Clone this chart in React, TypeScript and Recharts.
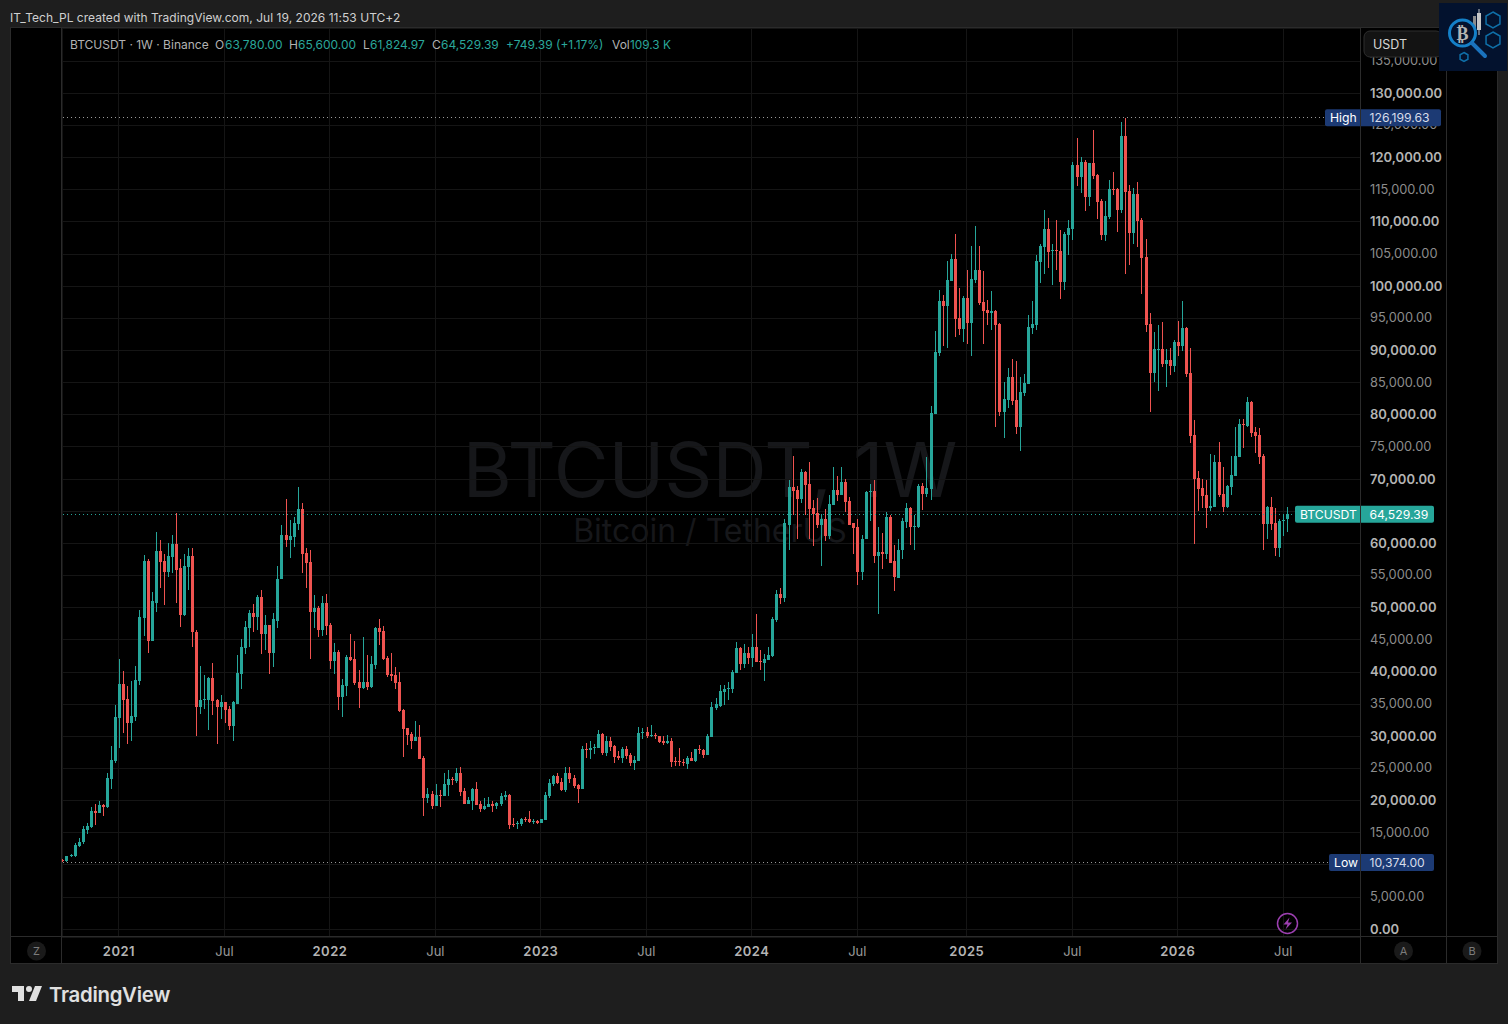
import { Bar, CartesianGrid, ComposedChart, ReferenceLine, XAxis, YAxis } from "recharts";

// weekly candles, prices in thousands of USDT
const opens = [
  10.77,10.56,11.34,11.34,12.9,13.52,15.38,15.85,18.33,18.02,
  19.26,18.95,23.3,26.1,32.8,38.07,35.74,32.0,32.94,38.53,
  48.33,57.34,44.9,50.81,58.89,57.34,55.63,57.96,59.98,56.1,
  48.79,56.4,58.12,46.3,34.5,35.58,35.58,39.0,35.58,34.5,
  35.27,34.2,31.54,35.1,39.62,43.66,46.77,49.1,48.48,51.74,
  45.84,47.24,42.89,48.0,54.4,61.38,60.6,61.07,63.09,65.42,
  58.58,57.18,49.26,50.03,46.46,50.66,47.24,41.65,43.05,36.05,
  37.76,42.27,41.96,38.38,37.45,38.38,37.6,41.03,46.77,46.31,
  42.11,39.63,39.47,38.38,34.03,31.24,30.3,29.21,29.84,26.57,
  20.36,20.98,19.12,20.82,20.67,22.38,23.31,23.0,24.24,21.44,
  19.42,19.89,21.75,19.42,18.65,18.96,19.42,19.12,19.42,20.51,
  20.82,16.32,16.32,16.32,17.1,17.1,16.63,16.78,16.47,16.94,
  20.67,22.53,23.78,22.84,21.6,24.24,23.47,22.38,21.75,27.97,
  27.82,28.13,28.13,30.3,27.35,29.21,28.44,26.88,26.57,27.97,
  27.04,25.8,26.11,30.46,30.61,29.99,30.15,29.99,29.21,28.9,
  29.21,26.11,26.11,25.95,25.64,26.57,26.11,27.97,27.82,27.04,
  29.84,34.34,34.65,36.83,37.3,37.3,39.78,43.67,41.18,42.89,
  42.11,43.82,41.65,41.34,41.8,42.42,48.02,52.06,51.44,62.94,
  68.84,68.38,66.98,71.17,69.31,65.58,64.8,62.94,63.87,61.23,
  66.05,68.38,67.6,69.62,66.67,63.1,62.63,55.63,60.61,68.07,
  68.22,57.97,58.59,58.28,64.18,57.19,54.55,58.9,63.4,65.58,
  62.63,62.63,69.0,67.76,68.53,80.19,89.67,97.75,96.97,100.86,
  104.27,95.11,93.4,98.21,94.33,101.01,102.57,97.59,96.35,95.88,
  96.2,94.17,80.5,82.36,85.94,82.36,78.17,83.45,84.85,93.55,
  94.01,103.8,106.14,108.93,105.52,105.67,105.52,100.7,108.0,108.93,
  118.88,117.0,119.35,113.9,119.19,117.32,113.28,108.0,110.8,115.15,
  115.15,111.89,123.38,114.84,108.31,114.37,110.33,104.58,94.17,86.56,
  90.13,90.28,87.95,88.58,87.64,91.37,90.75,93.55,86.56,76.92,
  70.24,68.69,67.6,65.58,65.73,72.72,67.75,65.73,68.84,70.55,
  73.5,78.63,78.32,82.05,77.39,76.92,73.66,63.09,65.73,63.25,
  59.36,63.56,63.78,
];
const highs = [
  10.87,11.44,11.7,13.36,14.13,16.0,16.47,18.95,19.42,19.88,
  19.42,24.24,28.43,34.8,41.95,40.09,37.76,38.53,40.86,49.72,
  58.27,57.5,52.52,61.84,60.6,58.43,60.14,61.38,64.8,57.5,
  58.43,59.36,59.36,46.6,40.86,39.47,39.3,41.33,35.74,36.5,
  35.3,34.65,35.43,42.58,45.2,48.0,49.72,50.5,51.9,52.83,
  48.79,47.3,49.1,56.56,62.93,66.97,63.7,64.18,68.84,66.35,
  59.36,59.05,51.9,50.2,51.75,52.06,47.55,44.44,43.5,38.85,
  42.58,45.84,44.75,40.25,45.38,42.58,42.42,46.93,48.17,47.09,
  42.42,42.89,40.71,39.94,34.19,31.24,30.61,32.32,31.7,26.88,
  21.91,21.44,22.53,21.6,24.24,24.71,23.62,25.02,25.17,21.91,
  20.51,21.91,22.84,19.89,20.36,20.51,19.89,19.74,21.13,21.44,
  20.98,17.25,16.78,17.25,17.4,18.34,17.1,16.94,17.1,21.29,
  23.31,23.93,24.24,23.47,25.17,25.17,23.93,22.53,28.44,28.9,
  29.21,28.75,30.92,30.46,29.99,29.84,28.59,27.66,28.28,28.44,
  27.35,26.88,31.39,31.24,31.39,31.7,30.46,29.99,29.99,30.15,
  29.68,26.73,28.13,26.42,26.88,27.51,27.97,28.59,27.97,30.3,
  35.27,35.9,37.92,37.92,38.38,40.25,44.6,43.82,44.29,43.82,
  45.84,48.95,43.5,42.73,43.82,48.48,52.68,53.0,63.87,69.93,
  73.66,69.0,71.64,71.2,72.73,66.82,67.14,64.65,65.42,67.6,
  71.95,70.55,71.95,70.09,67.29,63.25,63.72,61.38,68.22,69.31,
  69.93,62.63,61.69,64.96,64.49,59.68,60.61,64.03,66.36,65.6,
  64.49,69.31,69.47,73.51,81.43,93.09,99.46,98.68,103.96,105.05,
  108.16,99.77,98.53,102.57,106.3,109.4,106.3,102.41,97.9,99.3,
  96.35,94.33,85.16,87.34,88.74,88.42,85.94,86.4,95.57,97.74,
  104.89,106.6,111.89,110.64,106.6,110.33,108.78,108.47,110.33,119.35,
  123.07,120.12,119.66,119.2,124.32,117.4,113.59,113.28,116.55,117.79,
  115.3,125.56,126.2,115.77,115.3,116.24,110.64,107.38,95.88,92.93,
  94.02,94.48,90.28,90.44,91.68,94.64,97.74,93.6,90.44,79.25,
  71.33,70.08,69.93,73.97,73.81,75.83,71.95,69.15,73.66,78.17,
  79.41,79.41,82.83,82.2,78.17,78.0,73.97,65.8,67.29,65.58,
  63.87,64.65,65.6,
];
const lows = [
  10.374,10.5,11.19,11.3,12.74,13.2,14.76,15.8,16.16,18.0,
  17.56,18.9,21.75,25.8,28.12,30.45,28.75,29.2,32.32,37.91,
  45.53,42.89,44.9,49.26,53.14,50.35,54.7,55.47,50.81,46.93,
  48.64,52.83,43.82,30.0,33.4,34.2,30.92,33.25,28.75,32.63,
  32.0,30.92,29.2,35.1,37.29,42.73,43.82,46.15,46.46,42.73,
  43.35,39.62,40.71,46.77,54.4,59.5,57.8,59.5,62.16,55.47,
  53.14,41.95,46.77,45.37,45.53,45.69,40.4,39.63,34.03,32.94,
  36.21,41.65,37.92,34.34,37.4,37.14,37.45,40.4,44.13,41.8,
  39.16,38.54,37.3,33.72,26.73,28.59,27.97,29.21,26.42,17.56,
  19.58,18.65,19.12,18.96,20.67,20.67,22.38,22.69,20.67,19.42,
  19.42,18.49,19.27,18.18,18.49,18.96,18.18,18.65,19.12,20.05,
  15.54,15.85,15.54,16.0,16.63,16.47,16.32,16.32,16.47,16.94,
  20.36,22.22,22.53,21.44,21.29,22.69,21.91,19.58,21.75,26.57,
  26.42,27.2,28.13,27.04,26.88,27.66,25.8,26.26,25.8,26.42,
  25.33,24.71,26.11,29.53,29.68,29.84,29.53,28.9,28.59,28.75,
  25.17,25.33,25.33,25.33,24.86,26.11,25.95,27.2,26.57,27.04,
  29.84,34.03,34.5,34.81,35.58,36.67,39.78,40.25,40.56,41.18,
  40.71,41.49,40.25,38.54,41.8,42.27,47.7,50.51,50.82,58.9,
  64.49,60.76,66.36,64.49,60.61,59.52,62.32,56.41,60.3,60.76,
  66.05,66.67,67.6,64.96,62.94,58.28,53.46,54.24,60.61,63.41,
  57.03,48.95,55.95,57.65,57.03,52.53,54.55,57.5,62.47,59.83,
  58.9,62.32,65.12,67.29,66.82,80.19,89.2,90.76,90.44,100.86,
  92.15,92.46,91.38,91.07,89.2,100.5,97.13,91.07,94.02,93.24,
  78.17,79.88,76.46,81.0,81.59,77.08,74.44,83.0,84.85,92.62,
  93.24,100.54,101.94,102.87,100.23,102.56,98.06,99.45,104.89,107.22,
  115.62,114.53,111.73,112.5,116.7,110.49,107.22,107.07,110.49,114.22,
  108.47,111.42,101.94,103.34,106.6,106.14,98.83,92.93,80.5,85.16,
  83.76,87.49,84.38,86.24,86.71,89.2,89.97,85.93,75.68,59.98,
  65.11,65.58,62.47,65.11,65.73,67.29,64.96,65.58,67.6,70.55,
  73.5,74.9,78.17,76.61,74.12,72.41,59.05,60.76,62.16,58.12,
  57.81,61.23,61.82,
];
const closes = [
  10.56,11.34,11.49,13.05,13.62,15.53,16.0,18.33,18.02,19.26,
  18.95,23.46,26.26,32.94,38.07,35.58,32.0,33.1,38.69,48.48,
  57.34,44.9,50.97,58.89,57.18,55.63,58.12,59.98,55.94,48.79,
  56.56,58.12,46.15,34.5,35.58,35.74,39.0,35.43,34.5,35.27,
  34.03,31.54,35.27,39.78,43.82,46.93,49.1,48.48,51.74,45.84,
  47.24,42.89,48.17,54.54,61.38,60.6,61.22,63.24,65.42,58.43,
  57.03,49.26,50.03,46.46,50.66,47.09,41.65,43.05,36.05,37.92,
  42.27,41.8,38.23,37.45,38.38,37.6,41.18,46.77,46.15,41.96,
  39.47,39.32,38.23,33.88,31.08,30.15,29.21,29.84,26.42,20.36,
  20.98,19.12,20.82,20.67,22.53,23.31,23.15,24.24,21.29,19.42,
  20.05,21.75,19.27,18.65,19.12,19.42,19.12,19.58,20.67,20.82,
  16.16,16.16,16.47,17.1,16.94,16.63,16.78,16.47,17.1,20.82,
  22.69,23.78,22.69,21.6,24.24,23.31,22.22,21.75,27.97,27.82,
  28.13,28.28,30.3,27.35,29.21,28.28,26.73,26.57,27.97,26.88,
  25.8,26.26,30.46,30.61,29.99,30.15,29.99,29.06,28.9,29.21,
  25.95,25.95,25.95,25.8,26.57,26.11,27.97,27.82,27.04,29.99,
  34.5,34.96,36.98,37.3,37.45,39.94,43.67,41.18,42.89,42.11,
  43.82,41.49,41.49,41.96,42.58,48.17,52.06,51.44,63.1,68.84,
  68.22,66.98,71.17,69.15,65.42,64.65,62.94,63.87,61.23,66.2,
  68.38,67.6,69.62,66.51,62.94,62.47,55.63,60.76,68.07,68.22,
  57.97,58.59,58.28,64.18,57.03,54.7,59.05,63.56,65.58,62.63,
  62.78,69.0,67.76,68.69,80.34,89.82,97.75,96.97,101.01,104.27,
  94.95,93.4,98.21,94.33,101.17,102.57,97.44,96.2,95.88,96.2,
  94.02,80.5,82.52,85.94,82.21,78.17,83.61,85.0,93.7,94.17,
  103.96,106.29,108.93,105.36,105.67,105.52,100.7,108.16,109.09,118.88,
  117.0,119.35,113.9,119.19,117.17,113.13,108.0,110.95,115.15,115.0,
  111.89,123.38,114.68,108.31,114.37,110.17,104.43,94.01,86.56,90.28,
  90.28,87.95,88.58,87.64,91.37,90.75,93.55,86.4,76.77,70.08,
  68.53,67.44,65.58,65.89,72.72,67.6,65.73,69.0,70.7,73.66,
  78.63,78.48,82.05,77.23,76.77,73.5,63.09,65.73,63.09,59.36,
  63.56,63.71,64.53,
];

const priceTicks = [
  0,5,10,15,20,25,30,35,40,45,50,55,60,65,70,75,80,85,90,95,100,105,110,115,120,125,130,135,
];
// these two sit fully behind the Low and last price tags
const coveredPriceTicks = [10, 65];
const timeTicks = [14, 40, 66, 92, 118, 144, 170, 196, 223, 249, 275, 301];
const timeLabels = ["2021","Jul","2022","Jul","2023","Jul","2024","Jul","2025","Jul","2026","Jul"];

const HIGH_PRICE = 126.19963;
const LOW_PRICE = 10.374;
const LAST_PRICE = 64.52939;

const X_DOMAIN = [-0.042, 319.93];
const Y_DOMAIN = [-1.213, 140.16];
const MARGIN = { top: 28, left: 62, right: 62, bottom: 60 };

const UP = "#26a69a";
const DOWN = "#ef5350";
const FONT = "Inter, sans-serif";

const candles = opens.map((open, i) => ({
  idx: i,
  open,
  close: closes[i],
  range: [lows[i], highs[i]],
}));

function Candle(props: any) {
  const { x, y, width, height, payload } = props;
  const top = Math.min(y, y + height);
  const h = Math.abs(height);
  const [low, high] = payload.range;
  const yOf = (v: number) => top + ((high - v) / (high - low)) * h;
  const color = payload.close >= payload.open ? UP : DOWN;
  const px = Math.floor(x + width / 2 + 0.25);
  const bodyTop = yOf(Math.max(payload.open, payload.close));
  const bodyBottom = yOf(Math.min(payload.open, payload.close));
  return (
    <g shapeRendering="crispEdges">
      <rect x={px} y={top} width={1} height={h} fill={color} />
      <rect x={px - 1} y={bodyTop} width={3} height={Math.max(bodyBottom - bodyTop, 1)} fill={color} />
    </g>
  );
}

function PriceTick({ x, y, payload }: any) {
  if (coveredPriceTicks.includes(payload.value)) return <g />;
  const major = payload.value % 10 === 0;
  const text = (payload.value * 1000).toLocaleString("en-US", {
    minimumFractionDigits: 2,
    maximumFractionDigits: 2,
  });
  return (
    <text
      x={x}
      y={y - 0.6}
      dominantBaseline="central"
      fontFamily={FONT}
      fontSize={major ? 13 : 12.8}
      fontWeight={major ? 600 : 400}
      fill={major ? "#b4b4b4" : "#8c8c8c"}
    >
      {text}
    </text>
  );
}

function TimeTick({ x, y, payload }: any) {
  const label = timeLabels[timeTicks.indexOf(payload.value)];
  const major = label !== "Jul";
  return (
    <text
      x={x}
      y={y}
      textAnchor="middle"
      dominantBaseline="central"
      fontFamily={FONT}
      fontSize={13}
      fontWeight={major ? 600 : 400}
      letterSpacing={major ? 0.5 : 0}
      fill={major ? "#b4b4b4" : "#9a9a9a"}
    >
      {label}
    </text>
  );
}

function PriceTag({ viewBox, name, value, color, left, right, valueColor }: any) {
  const axisX = viewBox.x + viewBox.width;
  const cy = viewBox.y;
  return (
    <g fontFamily={FONT} fontSize={12.2}>
      <rect x={axisX - left} y={cy - 8.5} width={left + right} height={17} rx={2} fill={color} />
      <text x={axisX - left + 5} y={cy} fill="#ffffff" dominantBaseline="central">
        {name}
      </text>
      <text x={axisX + 9.5} y={cy} fill={valueColor} dominantBaseline="central">
        {value}
      </text>
    </g>
  );
}

function Abs({ x, y, w, h, style, children }: any) {
  return (
    <div style={{ position: "absolute", left: x, top: y, width: w, height: h, ...style }}>{children}</div>
  );
}

function Txt({ x, y, color, children, size = 12, spacing = 0 }: any) {
  return (
    <span
      style={{
        position: "absolute",
        left: x,
        top: y,
        color,
        fontSize: size,
        letterSpacing: spacing,
        fontFamily: FONT,
        lineHeight: "16px",
        whiteSpace: "nowrap",
      }}
    >
      {children}
    </span>
  );
}

function Legend() {
  const grey = "#b2b2b2";
  const green = "#2aa79b";
  return (
    <>
      <Txt x={70} y={37} color={grey}>BTCUSDT · 1W · Binance</Txt>
      <Txt x={215} y={37} color={grey}>O</Txt>
      <Txt x={225} y={37} color={green}>63,780.00</Txt>
      <Txt x={289} y={37} color={grey}>H</Txt>
      <Txt x={298} y={37} color={green}>65,600.00</Txt>
      <Txt x={363} y={37} color={grey}>L</Txt>
      <Txt x={370} y={37} color={green}>61,824.97</Txt>
      <Txt x={432} y={37} color={grey}>C</Txt>
      <Txt x={441} y={37} color={green}>64,529.39</Txt>
      <Txt x={506} y={37} color={green}>+749.39 (+1.17%)</Txt>
      <Txt x={612} y={37} color={grey}>Vol</Txt>
      <Txt x={630} y={37} color={green} size={11.8}>109.3 K</Txt>
    </>
  );
}

function Hexagon({ cx, cy, r }: any) {
  const h = r * 0.87;
  return (
    <path
      d={`M${cx} ${cy - r}L${cx + h} ${cy - r / 2}L${cx + h} ${cy + r / 2}L${cx} ${cy + r}L${cx - h} ${cy + r / 2}L${cx - h} ${cy - r / 2}Z`}
      fill="none"
      stroke="#0f6fa8"
      strokeWidth={1.5}
    />
  );
}

function Overlay() {
  const line = "#2b2b2b";
  const circles = [
    { x: 36.5, label: "Z" },
    { x: 1403.5, label: "A" },
    { x: 1472, label: "B" },
  ];
  return (
    <svg width={1508} height={1024} style={{ position: "absolute", left: 0, top: 0, pointerEvents: "none" }}>
      <g shapeRendering="crispEdges" stroke={line} fill="none">
        <rect x={10.5} y={27.5} width={1487} height={936} />
        <line x1={61.5} y1={27} x2={61.5} y2={963} />
        <line x1={1360.5} y1={27} x2={1360.5} y2={963} />
        <line x1={1446.5} y1={27} x2={1446.5} y2={963} />
        <line x1={10} y1={936.5} x2={1497} y2={936.5} />
      </g>
      {circles.map((c) => (
        <g key={c.label}>
          <circle cx={c.x} cy={951} r={9.5} fill="#1a1a1a" />
          <text
            x={c.x}
            y={951}
            textAnchor="middle"
            dominantBaseline="central"
            fontFamily={FONT}
            fontSize={11}
            fill="#7c7c7c"
          >
            {c.label}
          </text>
        </g>
      ))}
      <rect x={1364} y={31} width={78} height={26} rx={6} fill="#131313" stroke="#2e2e2e" />
      <text x={1373} y={44.5} dominantBaseline="central" fontFamily={FONT} fontSize={12.5} fill="#d6d6d6">
        USDT
      </text>
      <circle cx={1287.5} cy={923.5} r={10} fill="none" stroke="#9c3fb0" strokeWidth={1.5} />
      <path d="M1289.5 917.5L1283.5 924.5H1287.5L1285.5 929.5L1292 922.5H1288Z" fill="#9c3fb0" />
      <rect x={1439} y={3} width={68} height={68} fill="#03122e" />
      <rect x={1473} y={16} width={3} height={12} fill="#8c8c8c" />
      <rect x={1477} y={13} width={4} height={17} fill="#c8c8c8" />
      <rect x={1478.5} y={9} width={1} height={26} fill="#c8c8c8" />
      <circle cx={1462.5} cy={33} r={13} fill="#03122e" stroke="#1480c8" strokeWidth={3} />
      <text x={1462.5} y={33} textAnchor="middle" dominantBaseline="central" fontFamily="DejaVu Sans" fontWeight={700} fontSize={18} fill="#b4b4b4">
        ₿
      </text>
      <line x1={1472} y1={43} x2={1485} y2={56} stroke="#1a72bd" strokeWidth={4} strokeLinecap="round" />
      <Hexagon cx={1493} cy={20} r={8} />
      <Hexagon cx={1493} cy={40} r={8} />
      <Hexagon cx={1464} cy={57} r={4.5} />
      <path
        transform="translate(10 980)"
        d="M14 6H2v6h6v9h6V6Zm12 15h-7l6-15h7l-6 15Zm-7-9a3 3 0 1 0 0-6 3 3 0 0 0 0 6Z"
        fill="#e0e0e0"
      />
      <text x={49} y={994} dominantBaseline="central" fontFamily={FONT} fontWeight={600} fontSize={20.4} letterSpacing={-0.3} fill="#e0e0e0">
        TradingView
      </text>
    </svg>
  );
}

export default function App() {
  return (
    <div style={{ position: "absolute", left: 0, top: 0, width: 1508, height: 1024, background: "#1e1e1e", overflow: "hidden" }}>
      <Txt x={10} y={10} color="#d0d0d0" spacing={0.03}>IT_Tech_PL created with TradingView.com, Jul 19, 2026 11:53 UTC+2</Txt>
      <Abs x={10} y={27} w={1488} h={937} style={{ background: "#000000" }} />
      <div
        style={{
          position: "absolute",
          left: 360,
          width: 700,
          top: 431,
          textAlign: "center",
          fontFamily: FONT,
          fontSize: 75,
          lineHeight: "78px",
          color: "#16171a",
        }}
      >
        BTCUSDT, 1W
      </div>
      <div
        style={{
          position: "absolute",
          left: 360,
          width: 700,
          top: 513,
          textAlign: "center",
          fontFamily: FONT,
          fontSize: 32,
          lineHeight: "36px",
          color: "#16171a",
        }}
      >
        Bitcoin / TetherUS
      </div>
      <div style={{ position: "absolute", left: 0, top: 0 }}>
        <ComposedChart width={1508} height={1024} data={candles} margin={MARGIN}>
          <CartesianGrid stroke="#151515" shapeRendering="crispEdges" />
          <XAxis
            dataKey="idx"
            type="number"
            domain={X_DOMAIN}
            allowDataOverflow
            ticks={timeTicks}
            interval={0}
            height={27}
            tickSize={0}
            tickMargin={14}
            axisLine={false}
            tickLine={false}
            tick={<TimeTick />}
          />
          <YAxis
            orientation="right"
            type="number"
            domain={Y_DOMAIN}
            allowDataOverflow
            ticks={priceTicks}
            interval={0}
            width={86}
            tickSize={0}
            tickMargin={10}
            axisLine={false}
            tickLine={false}
            tick={<PriceTick />}
          />
          <Bar dataKey="range" barSize={3} shape={<Candle />} isAnimationActive={false} />
        </ComposedChart>
      </div>
      {/* second layer so the tags cover the axis labels underneath */}
      <div style={{ position: "absolute", left: 0, top: 0 }}>
        <ComposedChart width={1508} height={1024} data={candles} margin={MARGIN}>
          <XAxis dataKey="idx" type="number" domain={X_DOMAIN} allowDataOverflow height={27} tick={false} axisLine={false} tickLine={false} />
          <YAxis orientation="right" type="number" domain={Y_DOMAIN} allowDataOverflow width={86} tick={false} axisLine={false} tickLine={false} />
          <ReferenceLine
            y={HIGH_PRICE}
            stroke="#9a9a9a"
            strokeDasharray="1 3"
            shapeRendering="crispEdges"
            label={<PriceTag name="High" value="126,199.63" color="#1c3a74" valueColor="#d6dcea" left={35} right={81} />}
          />
          <ReferenceLine
            y={LOW_PRICE}
            stroke="#9a9a9a"
            strokeDasharray="1 3"
            shapeRendering="crispEdges"
            label={<PriceTag name="Low" value="10,374.00" color="#1c3a74" valueColor="#d6dcea" left={31} right={74} />}
          />
          <ReferenceLine
            y={LAST_PRICE}
            stroke={UP}
            strokeDasharray="1 3"
            shapeRendering="crispEdges"
            label={<PriceTag name="BTCUSDT" value="64,529.39" color={UP} valueColor="#ffffff" left={65} right={74} />}
          />
        </ComposedChart>
      </div>
      <Legend />
      <Overlay />
    </div>
  );
}
